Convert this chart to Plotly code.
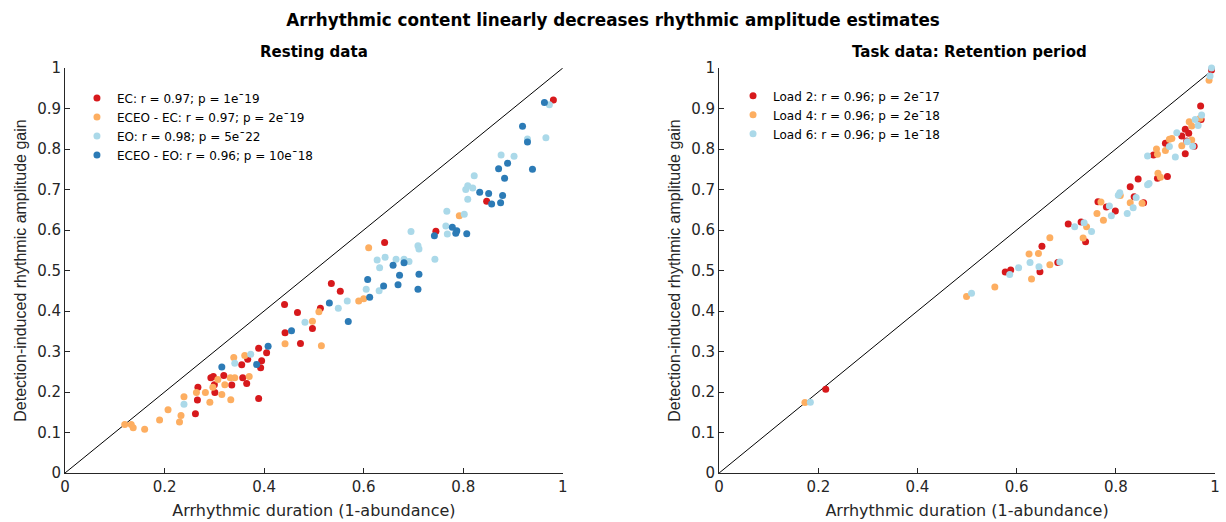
import plotly.graph_objects as go

# ---- Resting data ----
ec_x = [0.262, 0.266, 0.267, 0.293, 0.298, 0.300, 0.301, 0.319, 0.335, 0.355,
        0.357, 0.365, 0.367, 0.389, 0.395, 0.393, 0.405, 0.389, 0.441, 0.467,
        0.442, 0.473, 0.497, 0.513, 0.535, 0.553, 0.642, 0.745, 0.847, 0.981]
ec_y = [0.146, 0.180, 0.212, 0.235, 0.238, 0.218, 0.199, 0.241, 0.217, 0.267,
        0.235, 0.221, 0.281, 0.308, 0.277, 0.260, 0.297, 0.184, 0.416, 0.396,
        0.346, 0.320, 0.357, 0.407, 0.468, 0.449, 0.569, 0.597, 0.671, 0.921]

eceo_ec_x = [0.120, 0.133, 0.137, 0.160, 0.190, 0.207, 0.230, 0.233, 0.239, 0.264,
             0.282, 0.291, 0.297, 0.307, 0.321, 0.315, 0.332, 0.333, 0.341, 0.339,
             0.361, 0.370, 0.442, 0.510, 0.497, 0.515, 0.590, 0.600, 0.610, 0.792]
eceo_ec_y = [0.120, 0.120, 0.112, 0.108, 0.131, 0.156, 0.126, 0.142, 0.188, 0.199,
             0.199, 0.175, 0.212, 0.231, 0.218, 0.194, 0.235, 0.181, 0.235, 0.285,
             0.290, 0.238, 0.319, 0.398, 0.375, 0.314, 0.425, 0.430, 0.556, 0.635]

eo_x = [0.239, 0.341, 0.373, 0.482, 0.549, 0.567, 0.605, 0.631, 0.627, 0.632,
        0.643, 0.665, 0.681, 0.691, 0.695, 0.709, 0.711, 0.743, 0.765, 0.768,
        0.767, 0.802, 0.809, 0.805, 0.809, 0.819, 0.822, 0.876, 0.902, 0.929,
        0.966, 0.973]
eo_y = [0.170, 0.271, 0.293, 0.372, 0.407, 0.425, 0.454, 0.450, 0.526, 0.507,
        0.533, 0.528, 0.528, 0.522, 0.596, 0.561, 0.553, 0.528, 0.610, 0.590,
        0.646, 0.639, 0.676, 0.700, 0.709, 0.704, 0.734, 0.785, 0.782, 0.825,
        0.828, 0.909]

eceo_eo_x = [0.315, 0.385, 0.408, 0.455, 0.531, 0.569, 0.608, 0.612, 0.640, 0.659,
             0.672, 0.669, 0.681, 0.711, 0.709, 0.742, 0.778, 0.787, 0.785, 0.807,
             0.833, 0.851, 0.857, 0.875, 0.879, 0.871, 0.889, 0.883, 0.939, 0.919,
             0.929, 0.963]
eceo_eo_y = [0.262, 0.268, 0.313, 0.351, 0.420, 0.374, 0.478, 0.434, 0.462, 0.513,
             0.488, 0.465, 0.519, 0.491, 0.454, 0.586, 0.607, 0.598, 0.592, 0.591,
             0.693, 0.690, 0.664, 0.667, 0.685, 0.751, 0.765, 0.728, 0.750, 0.856,
             0.817, 0.915]

# ---- Task data: retention period ----
load2_x = [0.993, 0.971, 0.972, 0.940, 0.933, 0.947, 0.943, 0.958, 0.940, 0.900,
           0.876, 0.904, 0.884, 0.845, 0.829, 0.837, 0.856, 0.781, 0.799, 0.764,
           0.704, 0.730, 0.739, 0.651, 0.647, 0.683, 0.588, 0.577, 0.215]
load2_y = [0.995, 0.906, 0.873, 0.849, 0.832, 0.839, 0.820, 0.807, 0.788, 0.814,
           0.785, 0.732, 0.728, 0.726, 0.707, 0.682, 0.667, 0.657, 0.647, 0.670,
           0.615, 0.620, 0.571, 0.560, 0.497, 0.520, 0.501, 0.496, 0.207]

load4_x = [0.988, 0.970, 0.948, 0.953, 0.913, 0.908, 0.953, 0.933, 0.882, 0.884,
           0.900, 0.885, 0.890, 0.829, 0.853, 0.809, 0.770, 0.762, 0.775, 0.741,
           0.734, 0.667, 0.644, 0.625, 0.667, 0.630, 0.556, 0.499, 0.173]
load4_y = [0.970, 0.876, 0.867, 0.857, 0.826, 0.824, 0.822, 0.808, 0.800, 0.787,
           0.796, 0.740, 0.730, 0.667, 0.666, 0.685, 0.669, 0.641, 0.624, 0.608,
           0.580, 0.581, 0.542, 0.541, 0.514, 0.479, 0.459, 0.436, 0.174]

load6_x = [0.993, 0.990, 0.973, 0.960, 0.966, 0.923, 0.944, 0.955, 0.908, 0.864,
           0.920, 0.867, 0.864, 0.808, 0.805, 0.841, 0.835, 0.787, 0.791, 0.823,
           0.736, 0.717, 0.751, 0.687, 0.627, 0.645, 0.604, 0.586, 0.509, 0.184]
load6_y = [1.000, 0.980, 0.884, 0.873, 0.858, 0.840, 0.818, 0.807, 0.806, 0.783,
           0.780, 0.715, 0.712, 0.692, 0.686, 0.680, 0.655, 0.659, 0.635, 0.641,
           0.618, 0.608, 0.596, 0.521, 0.520, 0.509, 0.507, 0.490, 0.444, 0.175]

RED, ORANGE, LIGHTBLUE, BLUE = "#d7191c", "#fdae61", "#abd9e9", "#2c7bb6"
TXT = "#262626"
WIDE = "DejaVu Sans, Liberation Sans, sans-serif"
NARROW = "Liberation Sans, Arial, sans-serif"

fig = go.Figure()

identity = [0, 1]
for xa, ya in (("x", "y"), ("x2", "y2")):
    fig.add_trace(go.Scatter(x=identity, y=identity, mode="lines",
                             line=dict(color="black", width=1),
                             xaxis=xa, yaxis=ya, showlegend=False,
                             hoverinfo="skip"))

resting = [
    ("EC: r = 0.97; p = 1e\u00af19", ec_x, ec_y, RED),
    ("ECEO - EC: r = 0.97; p = 2e\u00af19", eceo_ec_x, eceo_ec_y, ORANGE),
    ("EO: r = 0.98; p = 5e\u00af22", eo_x, eo_y, LIGHTBLUE),
    ("ECEO - EO: r = 0.96; p = 10e\u00af18", eceo_eo_x, eceo_eo_y, BLUE),
]
for name, xs, ys, col in resting:
    fig.add_trace(go.Scatter(x=xs, y=ys, mode="markers", name=name,
                             marker=dict(color=col, size=7, line=dict(width=0)),
                             xaxis="x", yaxis="y", legend="legend",
                             cliponaxis=False))

task = [
    ("Load 2: r = 0.96; p = 2e\u00af17", load2_x, load2_y, RED),
    ("Load 4: r = 0.96; p = 2e\u00af18", load4_x, load4_y, ORANGE),
    ("Load 6: r = 0.96; p = 1e\u00af18", load6_x, load6_y, LIGHTBLUE),
]
for name, xs, ys, col in task:
    fig.add_trace(go.Scatter(x=xs, y=ys, mode="markers", name=name,
                             marker=dict(color=col, size=7, line=dict(width=0)),
                             xaxis="x2", yaxis="y2", legend="legend2",
                             cliponaxis=False))

xaxis_style = dict(range=[0, 1], tickvals=[0, 0.2, 0.4, 0.6, 0.8, 1],
                   ticktext=["0", "0.2", "0.4", "0.6", "0.8", "1"],
                   showgrid=False, zeroline=False, showline=True,
                   linecolor=TXT, linewidth=1, ticks="inside", ticklen=5,
                   tickcolor=TXT, mirror=False,
                   tickfont=dict(size=15, color=TXT, family=WIDE),
                   title=dict(text="Arrhythmic duration (1-abundance)",
                              font=dict(size=16, color=TXT, family=WIDE),
                              standoff=9))
yaxis_style = dict(range=[0, 1], tickvals=[i / 10 for i in range(11)],
                   ticktext=["0", "0.1", "0.2", "0.3", "0.4", "0.5", "0.6",
                             "0.7", "0.8", "0.9", "1"],
                   showgrid=False, zeroline=False, showline=True,
                   linecolor=TXT, linewidth=1, ticks="inside", ticklen=5,
                   tickcolor=TXT, mirror=False,
                   tickfont=dict(size=15, color=TXT, family=WIDE),
                   title=dict(text="Detection-induced rhythmic amplitude gain",
                              font=dict(size=16, color=TXT, family=NARROW),
                              standoff=6))

legend_style = dict(xanchor="left", yanchor="top", bgcolor="rgba(0,0,0,0)",
                    font=dict(size=12, color="black", family=WIDE),
                    tracegroupgap=0, itemsizing="trace")

fig.update_layout(
    width=1226, height=522,
    margin=dict(l=65, r=6, t=68, b=49),
    paper_bgcolor="white", plot_bgcolor="white",
    font=dict(family=WIDE, color=TXT),
    title=dict(text="<b>Arrhythmic content linearly decreases rhythmic amplitude estimates</b>",
               x=0.5, xanchor="center", y=0.962, yanchor="middle",
               font=dict(size=16.8, color="black", family=WIDE)),
    xaxis=dict(domain=[0, 0.4329], anchor="y", **xaxis_style),
    yaxis=dict(domain=[0, 1], anchor="x", **yaxis_style),
    xaxis2=dict(domain=[0.5688, 1], anchor="y2", **xaxis_style),
    yaxis2=dict(domain=[0, 1], anchor="x2", **yaxis_style),
    legend=dict(x=0.0104, y=0.962, **legend_style),
    legend2=dict(x=0.5809, y=0.967, **legend_style),
    annotations=[
        dict(text="<b>Resting data</b>", x=0.2165, y=1.0, xref="paper", yref="paper",
             xanchor="center", yanchor="bottom", yshift=5, showarrow=False,
             font=dict(size=15, color="black", family=WIDE)),
        dict(text="<b>Task data: Retention period</b>", x=0.7866, y=1.0,
             xref="paper", yref="paper", xanchor="center", yanchor="bottom",
             yshift=5, showarrow=False,
             font=dict(size=15, color="black", family=WIDE)),
    ],
)

fig.write_html("out.html")
